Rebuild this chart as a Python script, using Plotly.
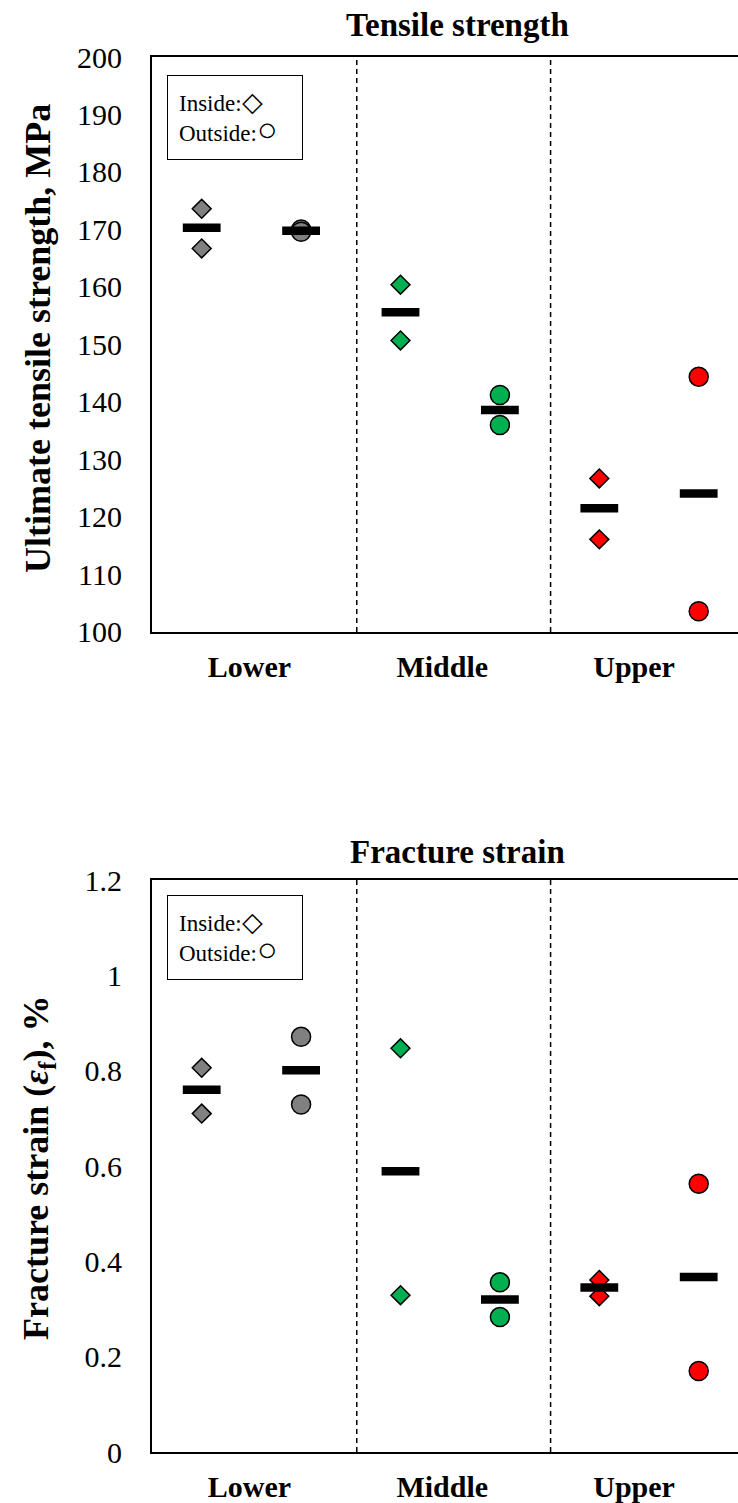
import plotly.graph_objects as go

# ---------------- data ----------------
groups = ["Lower", "Middle", "Upper"]
group_colors = ["#808080", "#00B050", "#FF0000"]

# Ultimate tensile strength (MPa)
uts_inside = [[173.6, 166.7], [160.4, 150.7], [126.7, 116.1]]
uts_outside = [[170.0, 169.6], [141.2, 136.0], [144.4, 103.6]]
uts_inside_mean = [170.3, 155.6, 121.5]
uts_outside_mean = [169.8, 138.6, 124.1]

# Fracture strain (%)
fs_inside = [[0.806, 0.710], [0.847, 0.329], [0.361, 0.327]]
fs_outside = [[0.871, 0.729], [0.356, 0.283], [0.563, 0.170]]
fs_inside_mean = [0.760, 0.589, 0.345]
fs_outside_mean = [0.801, 0.320, 0.367]

uts_ticks = [100, 110, 120, 130, 140, 150, 160, 170, 180, 190, 200]
fs_ticks = [0, 0.2, 0.4, 0.6, 0.8, 1.0, 1.2]

# ---------------- style ----------------
FONT = "Liberation Serif, Times New Roman, serif"
W, H = 738, 1503
ML, MT, MB = 152, 57, 46
PH = H - MT - MB
PW = W - ML


def py(pix):
    return (H - MB - pix) / PH


def px(pix):
    return (pix - ML) / PW


fig = go.Figure()


def add_panel(inside, outside, m_in, m_out, xa, ya):
    for g in range(3):
        xi = 2 * g + 1
        xo = 2 * g + 2
        fig.add_trace(go.Scatter(
            x=[xi] * len(inside[g]), y=inside[g], mode="markers",
            marker=dict(symbol="diamond", size=14.5, color=group_colors[g],
                        line=dict(color="black", width=1.5)),
            xaxis=xa, yaxis=ya, showlegend=False, hoverinfo="y"))
        fig.add_trace(go.Scatter(
            x=[xo] * len(outside[g]), y=outside[g], mode="markers",
            marker=dict(symbol="circle", size=19, color=group_colors[g],
                        line=dict(color="black", width=1.5)),
            xaxis=xa, yaxis=ya, showlegend=False, hoverinfo="y"))
    for g in range(3):
        fig.add_trace(go.Scatter(
            x=[2 * g + 1, 2 * g + 2], y=[m_in[g], m_out[g]], mode="markers",
            marker=dict(symbol="line-ew", size=27, color="black",
                        line=dict(color="black", width=8.5)),
            xaxis=xa, yaxis=ya, showlegend=False, hoverinfo="y"))


add_panel(uts_inside, uts_outside, uts_inside_mean, uts_outside_mean, "x", "y")
add_panel(fs_inside, fs_outside, fs_inside_mean, fs_outside_mean, "x2", "y2")

xr = [0.5, 0.5 + PW / 99.4]
label_pos = [1.48, 3.42, 5.35]
xcommon = dict(range=xr, showgrid=False, zeroline=False, showline=True,
               linecolor="black", linewidth=2, mirror=True, ticks="",
               tickvals=label_pos, ticktext=["<b>%s</b>" % g for g in groups],
               tickfont=dict(family=FONT, size=30, color="black"),
               ticklabelstandoff=7)
ycommon = dict(showgrid=False, zeroline=False, showline=True,
               linecolor="black", linewidth=2, ticks="",
               tickfont=dict(family=FONT, size=30, color="black"),
               ticklabelstandoff=22)

top_bottom_pix = 634
bot_top_pix = 883

fig.update_layout(
    width=W, height=H,
    margin=dict(l=ML, r=0, t=MT, b=MB),
    paper_bgcolor="white", plot_bgcolor="white",
    xaxis=dict(domain=[0, 1], anchor="y", **xcommon),
    yaxis=dict(domain=[py(top_bottom_pix), 1], anchor="x", range=[100, 200],
               tickvals=uts_ticks, **ycommon),
    xaxis2=dict(domain=[0, 1], anchor="y2", **xcommon),
    yaxis2=dict(domain=[0, py(bot_top_pix)], anchor="x2", range=[0, 1.2],
                tickvals=fs_ticks, **ycommon),
)

# dashed separators
for sep in [2.56, 4.51]:
    for yref in ["y domain", "y2 domain"]:
        fig.add_shape(type="line", xref="x" if yref == "y domain" else "x2",
                      yref=yref, x0=sep, x1=sep, y0=0, y1=1,
                      line=dict(color="black", width=1.5, dash="5px,4px"))

ann = []
# titles
ann.append(dict(text="<b>Tensile strength</b>", x=px(457), y=py(25),
                xref="paper", yref="paper", showarrow=False,
                xanchor="center", yanchor="middle",
                font=dict(family=FONT, size=33, color="black")))
ann.append(dict(text="<b>Fracture strain</b>", x=px(457), y=py(855),
                xref="paper", yref="paper", showarrow=False,
                xanchor="center", yanchor="middle",
                font=dict(family=FONT, size=33, color="black")))
# y titles
ann.append(dict(text="<b>Ultimate tensile strength, MPa</b>", x=px(38), y=py(340),
                xref="paper", yref="paper", showarrow=False, textangle=-90,
                xanchor="center", yanchor="middle",
                font=dict(family=FONT, size=36, color="black")))
ann.append(dict(text="<b>Fracture strain (<i>ε</i><sub>f</sub>), %</b>", x=px(38), y=py(1172),
                xref="paper", yref="paper", showarrow=False, textangle=-90,
                xanchor="center", yanchor="middle",
                font=dict(family=FONT, size=36, color="black")))
# legend boxes
legend_text = ("Inside:<span style='font-size:27px'>◇</span><br>"
               "Outside:<span style='font-size:34px'>○</span>")
for top_pix in [75, 898]:
    ann.append(dict(text=legend_text, x=px(167), y=py(top_pix),
                    xref="paper", yref="paper", showarrow=False,
                    xanchor="left", yanchor="top", align="left",
                    width=112, borderpad=11, bordercolor="black", borderwidth=1,
                    bgcolor="white",
                    font=dict(family=FONT, size=23, color="black")))
fig.update_layout(annotations=ann)

fig.write_html("out.html")
